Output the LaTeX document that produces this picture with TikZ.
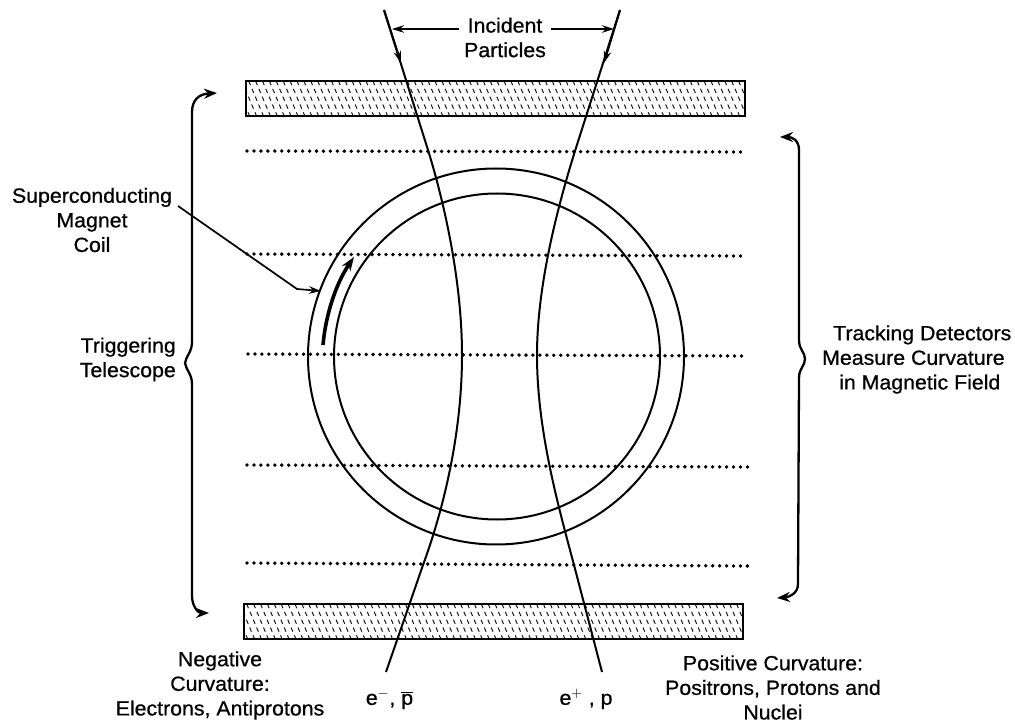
\documentclass[tikz,border=0pt]{standalone}
\usepackage{fontspec}
\setmainfont[FakeBold=0.7,FakeStretch=1.04]{Liberation Sans}
\usetikzlibrary{arrows.meta}
\tikzset{
  x=1pt,y=-1pt,
  label text/.style={inner sep=0pt,align=center,font=\fontsize{20.5}{24.6}\selectfont},
  hatch tick/.style={line width=1pt,black!90,dash pattern=on 4.5pt off 4pt},
  hatchbar/.style={draw,line width=2.2pt,inner sep=0pt,minimum width=499pt,minimum height=35pt,
    path picture={\foreach \i in {0,...,76}{
      \draw[hatch tick] ([xshift=\i*6.9pt-18pt]path picture bounding box.north west) -- ++(16,38);}}},
  dotrow/.style={line width=3.8pt,line cap=round,dash pattern=on 0pt off 6.95pt},
  ring/.style={line width=2pt},
  track/.style={line width=2pt},
  bracket/.style={line width=2.3pt},
  tiphead/.style={-{Stealth[length=12pt,width=7.5pt]}},
  bracket head/.style={{Stealth[length=13pt,width=10pt]}-{Stealth[length=13pt,width=10pt]}},
  leader/.style={line width=1.7pt},
}
\begin{document}
\begin{tikzpicture}
\useasboundingbox (0,0) rectangle (1015,722);
% bars
\node[hatchbar] (topbar) at (495.5,98.5) {};
\node[hatchbar] (botbar) at (493.5,621.5) {};
% dotted detector planes
\draw[dotrow] (247,151) -- (746,152);
\draw[dotrow] (247,254) -- (746,256);
\draw[dotrow] (248,354) -- (748,356);
\draw[dotrow] (247,465) -- (748,467);
\draw[dotrow] (247,563) -- (748,566);
% magnet coil
\node[draw,circle,ring,minimum size=376pt,inner sep=0pt] (outerring) at (496,356.5) {};
\node[draw,circle,ring,minimum size=326pt,inner sep=0pt] (innerring) at (497,356.5) {};
% particle tracks
\coordinate (ltop) at (384,10);
\coordinate (lhead) at (401,63);
\coordinate (lend) at (386,672);
\coordinate (rtop) at (620,10);
\coordinate (rhead) at (604,63);
\coordinate (rend) at (602,672);
\draw[track] (ltop) -- (428,150) .. controls (448,215) and (462,290) .. (462,355)
  .. controls (462,430) and (445,505) .. (423,565) -- (lend);
\draw[track] (rtop) -- (575,151) .. controls (555,215) and (537,290) .. (537,355)
  .. controls (537,430) and (558,505) .. (574,565) -- (rend);
\draw[track,tiphead] (ltop) -- (lhead);
\draw[track,tiphead] (rtop) -- (rhead);
% incident particles
\node[label text] (incident) at (505,37.5) {Incident\\Particles};
\coordinate (incl) at (392,29);
\coordinate (incr) at (614,29);
\draw[leader,tiphead] (incident.north west |- incl) ++(-5,0) -- (incl);
\draw[leader,tiphead] (incident.north east |- incr) ++(5,0) -- (incr);
% superconducting magnet coil
\node[label text] (coil) at (92,220) {Superconducting\\Magnet\\Coil};
\coordinate (coilbend) at (297,289);
\coordinate (coilstart) at (178,206);
\coordinate (coiltip) at (321,291);
\draw[leader,tiphead] (coilstart) -- (coilbend) -- (coiltip);
\coordinate (fieldstart) at (323,345);
\coordinate (fieldtip) at (354,257);
\draw[line width=3.6pt,-{Stealth[length=14pt,width=10pt]}] (fieldstart) .. controls (326,312) and (337,282) .. (fieldtip);
% left bracket
\coordinate (lbtop) at (217,93);
\coordinate (lbtip) at (185,363);
\coordinate (lbbot) at (209,613);
\draw[bracket,bracket head]
  (lbtop) .. controls (199,94) and (192,100) .. (192,112) -- (192,342)
  .. controls (192,352) and (186,356) .. (lbtip)
  .. controls (186,370) and (192,374) .. (192,384) -- (192,596)
  .. controls (192,606) and (198,613) .. (lbbot);
\node[label text,align=right,anchor=east] (trigger) at (176,359.5) {Triggering\\Telescope};
% right bracket
\coordinate (rbtop) at (780,137);
\coordinate (rbtip) at (805,359);
\coordinate (rbbot) at (777,598);
\draw[bracket,bracket head]
  (rbtop) .. controls (792,137) and (799,140) .. (799,150) -- (799,340)
  .. controls (799,350) and (805,352) .. (rbtip)
  .. controls (805,366) and (799,368) .. (799,378) -- (798,584)
  .. controls (798,593) and (790,597) .. (rbbot);
\node[label text,align=left,anchor=west] (tracking) at (822,359.5) {\hspace*{11pt}Tracking Detectors\\Measure Curvature\\\hspace*{17pt}in Magnetic Field};
% bottom labels
\node[label text] (negative) at (220,685.5) {Negative\\Curvature:\\Electrons, Antiprotons};
\node[label text] (positive) at (773,687.5) {Positive Curvature:\\Positrons, Protons and\\Nuclei};
\node[label text] (eminus) at (389.5,699) {e$^-$, $\overline{\mbox{p}}$};
\node[label text] (eplus) at (586,699) {e$^+$ , p};
\end{tikzpicture}
\end{document}
